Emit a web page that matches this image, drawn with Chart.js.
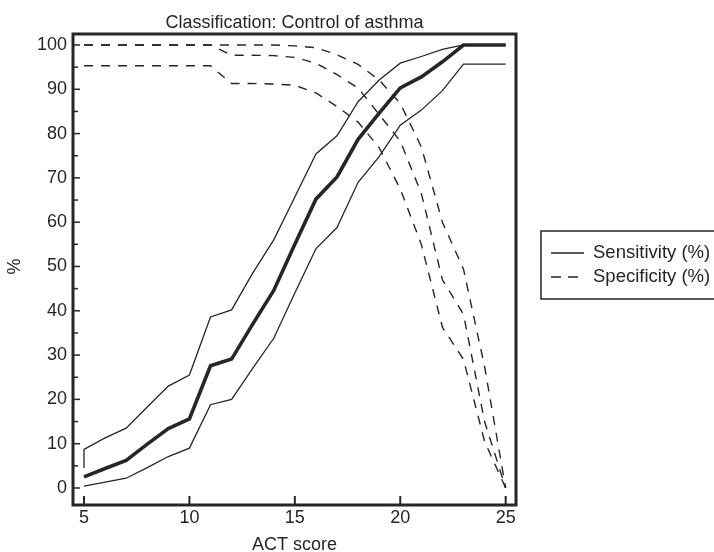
<!DOCTYPE html>
<html><head><meta charset="utf-8">
<script src="https://cdn.jsdelivr.net/npm/chart.js@4/dist/chart.umd.min.js"></script>
<style>html,body{margin:0;padding:0;background:#fff}#wrap{width:714px;height:552px}</style>
</head><body><div id="wrap"><canvas id="c" width="714" height="552"></canvas></div>
<script>
const chartTitle = 'Classification: Control of asthma';
const xTitle = 'ACT score';
const yTitle = '%';
const legendLabels = ['Sensitivity (%)', 'Specificity (%)'];

const scores = [5,6,7,8,9,10,11,12,13,14,15,16,17,18,19,20,21,22,23,24,25];
const sensitivity = [2.5,4.4,6.2,9.9,13.4,15.6,27.6,29.1,37,44.6,55,65.2,70.2,78.7,84.6,90.3,92.8,96.2,100,100,100];
const sensLower   = [0.4,1.3,2.2,4.6,7.1,9,18.8,20,27,33.8,44,54,58.8,69,74.8,81.9,85.3,89.7,95.7,95.7,95.7];
const sensUpperScores = [5,5,6,7,8,9,10,11,12,13,14,15,16,17,18,19,20,21,22,23,24,25];
const sensUpper   = [4.5,8.7,11.3,13.5,18.3,23,25.5,38.6,40.2,48.5,56,65.7,75.4,79.5,87.2,92.1,95.9,97.4,99,100,100,100];
const specificity = [100,100,100,100,100,100,100,97.7,97.7,97.6,97.2,95.9,93.3,90.3,84.3,78.3,66.5,47,39.2,15,0];
const specLower   = [95.3,95.3,95.3,95.3,95.3,95.3,95.3,91.3,91.3,91.2,90.9,89.2,86.1,82.6,76.8,67.5,55,36.3,29,10.5,0];
const specUpper   = [100,100,100,100,100,100,100,100,100,100,99.8,99.4,97.8,95.6,92.1,86.8,77,60,49.4,27.4,0];

const xTicks = [5,10,15,20,25];
const yTicks = [0,10,20,30,40,50,60,70,80,90,100];
const yMinorTicks = [5,15,25,35,45,55,65,75,85,95];

const ink = '#262626';
const FONT = '"Liberation Sans", Arial, sans-serif';

function pts(xs, ys) { return xs.map((x, i) => ({x: x, y: ys[i]})); }

const dash = [9, 8];
const datasets = [
  {data: pts(scores, specUpper), borderColor: ink, borderWidth: 1.4, borderDash: dash},
  {data: pts(scores, specificity), borderColor: ink, borderWidth: 1.4, borderDash: dash},
  {data: pts(scores, specLower), borderColor: ink, borderWidth: 1.4, borderDash: dash},
  {data: pts(sensUpperScores, sensUpper), borderColor: ink, borderWidth: 1.3},
  {data: pts(scores, sensLower), borderColor: ink, borderWidth: 1.3},
  {data: pts(scores, sensitivity), borderColor: ink, borderWidth: 3.6}
];

const decor = {
  id: 'decor',
  afterDraw(chart) {
    const {ctx, chartArea: a, scales} = chart;
    const x = scales.x, y = scales.y;
    const seg = (x1, y1, x2, y2) => { ctx.beginPath(); ctx.moveTo(x1, y1); ctx.lineTo(x2, y2); ctx.stroke(); };
    ctx.save();
    ctx.strokeStyle = ink;
    ctx.lineWidth = 1.5;
    yTicks.forEach(v => { const p = y.getPixelForValue(v); seg(a.left, p, a.left + 7, p); });
    yMinorTicks.forEach(v => { const p = y.getPixelForValue(v); seg(a.left, p, a.left + 5, p); });
    ctx.lineWidth = 2;
    xTicks.forEach(v => { const p = x.getPixelForValue(v); seg(p, a.bottom, p, a.bottom - 9); });
    ctx.lineWidth = 3;
    ctx.strokeRect(a.left, a.top, a.right - a.left, a.bottom - a.top);

    ctx.fillStyle = ink;
    ctx.font = '18px ' + FONT;
    ctx.textAlign = 'center';
    ctx.textBaseline = 'alphabetic';
    ctx.fillText(chartTitle, (a.left + a.right) / 2, 28);
    ctx.fillText(xTitle, (a.left + a.right) / 2, 550);

    // legend
    ctx.lineWidth = 1.5;
    ctx.strokeRect(541, 231, 200, 68);
    ctx.lineWidth = 1.3;
    seg(551, 253, 584, 253);
    ctx.setLineDash([10, 7]);
    ctx.lineWidth = 1.4;
    seg(551, 277, 584, 277);
    ctx.setLineDash([]);
    ctx.font = '18.5px ' + FONT;
    ctx.textAlign = 'left';
    ctx.textBaseline = 'middle';
    ctx.fillText(legendLabels[0], 593, 253);
    ctx.fillText(legendLabels[1], 593, 277);

    ctx.font = '18px ' + FONT;
    ctx.translate(15, (a.top + a.bottom) / 2 - 3);
    ctx.rotate(-Math.PI / 2);
    ctx.textAlign = 'center';
    ctx.fillText(yTitle, 0, 0);
    ctx.restore();
  }
};

new Chart(document.getElementById('c'), {
  type: 'line',
  data: {datasets: datasets},
  options: {
    responsive: false,
    animation: false,
    devicePixelRatio: 1,
    layout: {padding: {left: 0, top: 34, right: 198, bottom: 0}},
    elements: {point: {radius: 0}, line: {tension: 0}},
    plugins: {legend: {display: false}, tooltip: {enabled: false}},
    scales: {
      x: {
        type: 'linear', min: 4.478, max: 25.49,
        grid: {display: false, drawTicks: false}, border: {display: false},
        afterBuildTicks: s => { s.ticks = xTicks.map(v => ({value: v})); },
        afterFit: s => { s.height = 47; },
        ticks: {color: ink, font: {size: 18, family: FONT}, padding: 2, maxRotation: 0}
      },
      y: {
        type: 'linear', min: -3.84, max: 102.48,
        grid: {display: false, drawTicks: false}, border: {display: false},
        afterBuildTicks: s => { s.ticks = yTicks.map(v => ({value: v})); },
        afterFit: s => { s.width = 73; },
        ticks: {color: ink, font: {size: 18, family: FONT}, padding: 6}
      }
    }
  },
  plugins: [decor]
});
</script></body></html>
